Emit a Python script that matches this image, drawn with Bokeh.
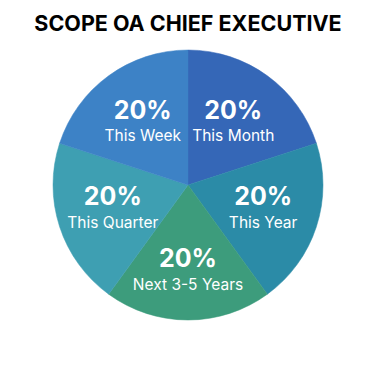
import math
from bokeh.plotting import figure
from bokeh.models import ColumnDataSource, Range1d
from bokeh.core.properties import value
from bokeh.embed import file_html
from bokeh.resources import INLINE

title_text = "SCOPE OA CHIEF EXECUTIVE"
categories = ["This Month", "This Year", "Next 3-5 Years", "This Quarter", "This Week"]
shares = [20, 20, 20, 20, 20]
colors = ["#3567b7", "#2b8ba7", "#3d9c7c", "#3e9fb2", "#3d82c6"]

W, H = 359, 350
cx, cy, R = 187.5, H - 184.5, 135
label_radius = [77, 79, 86, 79, 77]

total = sum(shares)
starts, ends, lx, ly = [], [], [], []
a = math.pi / 2
for s, lr in zip(shares, label_radius):
    span = 2 * math.pi * s / total
    starts.append(a - span)
    ends.append(a)
    mid = a - span / 2
    lx.append(cx + lr * math.cos(mid))
    ly.append(cy + lr * math.sin(mid))
    a -= span

src = ColumnDataSource(dict(
    start=starts, end=ends, color=colors, cat=categories,
    pct=[f"{s}%" for s in shares],
    lx=lx, ly=ly,
    ly_pct=[y + 13 for y in ly],
    ly_cat=[y - 13 for y in ly],
))

p = figure(width=W, height=H, output_backend="svg", toolbar_location=None,
           x_range=Range1d(0, W), y_range=Range1d(0, H), min_border=0,
           outline_line_color=None)
p.axis.visible = False
p.grid.visible = False
p.background_fill_color = "white"
p.border_fill_color = "white"

p.wedge(x=cx, y=cy, radius=R, start_angle="start", end_angle="end",
        fill_color="color", line_color="color", line_width=0.5, source=src)

p.text(x="lx", y="ly_pct", text="pct", source=src, text_color="white",
       text_font=value("Inter"), text_font_style="bold", text_font_size="25px",
       text_align="center", text_baseline="middle")
p.text(x="lx", y="ly_cat", text="cat", source=src, text_color="white",
       text_font=value("Inter"), text_font_size="15.5px",
       text_align="center", text_baseline="middle")

p.text(x=[cx], y=[H - 22.5], text=[title_text], text_color="black",
       text_font=value("Inter"), text_font_style="bold", text_font_size="21.5px",
       text_align="center", text_baseline="middle")

open("out.html", "w").write(file_html(p, INLINE))
